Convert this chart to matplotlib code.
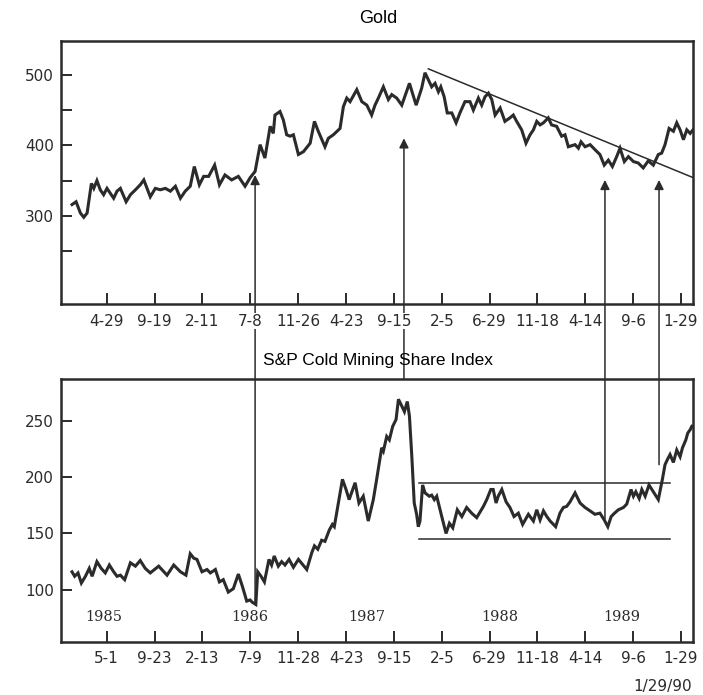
import matplotlib
matplotlib.use('Agg')
import matplotlib.pyplot as plt
from matplotlib.patches import ConnectionPatch

# x axis is in weeks, counted from the first tick (4-29-85)
tick_weeks = [0, 20, 40, 60, 80, 100, 120, 140, 160, 180, 200, 220, 240]
gold_ticklabels = ['4-29', '9-19', '2-11', '7-8', '11-26', '4-23', '9-15',
                   '2-5', '6-29', '11-18', '4-14', '9-6', '1-29']
index_ticklabels = ['5-1', '9-23', '2-13', '7-9', '11-28', '4-23', '9-15',
                    '2-5', '6-29', '11-18', '4-14', '9-6', '1-29']

# Gold price
gold_weeks = [-14.5, -12.8, -11.0, -9.6, -8.2, -6.4, -5.4, -4.1, -2.7, -1.3,
              0.1, 1.5, 2.9, 4.3, 5.7, 8.1, 9.9, 12.0, 14.0, 15.5,
              18.2, 20.3, 22.4, 24.5, 26.6, 28.7, 30.8, 32.8, 34.9, 36.6,
              38.7, 40.5, 42.6, 45.1, 47.1, 49.4, 52.2, 55.0, 56.4, 57.8,
              59.9, 62.0, 64.1, 66.1, 68.3, 69.6, 70.3, 72.4, 73.8, 75.2,
              76.6, 78.0, 80.1, 82.2, 85.0, 86.8, 88.4, 91.2, 92.6, 94.7,
              97.5, 98.9, 100.3, 101.7, 104.5, 106.6, 108.7, 110.7, 112.1, 113.5,
              115.6, 117.7, 119.1, 121.2, 123.3, 126.5, 129.3, 131.6, 133.0, 134.4,
              135.8, 137.2, 138.6, 139.6, 141.0, 142.3, 144.2, 146.0, 147.6, 149.7,
              151.8, 153.2, 155.3, 156.7, 158.1, 159.5, 160.9, 162.3, 164.4, 166.4,
              168.5, 169.9, 171.3, 173.4, 175.2, 176.9, 178.3, 179.7, 181.1, 182.5,
              184.5, 185.9, 188.0, 190.1, 191.5, 192.9, 195.7, 197.1, 198.2, 199.9,
              202.0, 204.0, 206.1, 207.9, 209.6, 211.3, 213.1, 214.5, 216.3, 218.0,
              220.1, 222.1, 224.2, 226.3, 228.4, 230.5, 231.9, 233.3, 235.0, 236.8,
              238.2, 239.6, 241.0, 242.4, 243.8, 245.0]
gold_price = [316, 320, 304, 298, 304, 346, 339, 350, 337, 330,
              339, 332, 325, 335, 339, 320, 330, 337, 344, 351,
              327, 339, 337, 339, 335, 342, 325, 335, 342, 370,
              344, 356, 356, 372, 344, 358, 351, 356, 349, 342,
              354, 363, 401, 382, 427, 417, 443, 448, 436, 415,
              413, 415, 387, 391, 403, 434, 420, 398, 410, 415,
              424, 455, 467, 462, 479, 462, 457, 443, 457, 467,
              483, 465, 472, 467, 457, 488, 457, 481, 503, 493,
              483, 488, 476, 483, 469, 446, 446, 432, 446, 462,
              462, 450, 467, 457, 469, 474, 465, 443, 453, 434,
              439, 443, 434, 422, 403, 415, 422, 434, 429, 432,
              439, 429, 427, 413, 415, 398, 401, 396, 405, 398,
              401, 394, 387, 372, 379, 370, 384, 396, 377, 384,
              377, 375, 368, 378, 372, 387, 389, 401, 424, 420,
              432, 422, 408, 422, 417, 422]

# S&P gold mining share index
index_weeks = [-14.5, -13.4, -12.0, -10.6, -8.9, -7.3, -6.1, -4.1, -2.3, -0.6,
               1.1, 2.9, 4.3, 5.7, 7.5, 9.9, 12.0, 14.0, 16.1, 18.2,
               21.7, 25.2, 28.0, 30.8, 33.1, 34.9, 36.4, 37.7, 39.8, 41.9,
               43.3, 45.4, 47.1, 48.7, 50.8, 52.9, 55.0, 56.7, 58.5, 59.9,
               60.8, 62.3, 63.1, 64.5, 65.9, 67.8, 68.9, 70.0, 71.7, 73.1,
               74.5, 76.2, 78.0, 80.1, 83.6, 85.7, 86.8, 88.2, 89.8, 91.2,
               93.0, 94.3, 95.1, 96.8, 98.5, 100.0, 101.3, 103.8, 105.4, 107.2,
               109.3, 111.4, 112.8, 114.9, 115.6, 117.0, 118.1, 119.5, 120.9, 121.9,
               123.3, 124.4, 125.6, 126.5, 127.5, 128.5, 129.5, 130.2, 130.9, 132.0,
               133.0, 134.8, 135.8, 136.9, 137.9, 140.0, 141.8, 143.2, 144.6, 146.5,
               148.4, 150.4, 152.5, 154.6, 157.4, 158.8, 160.5, 161.5, 162.7, 163.6,
               165.1, 166.9, 168.5, 170.2, 172.0, 173.8, 176.2, 178.3, 179.7, 181.1,
               182.5, 183.9, 185.3, 187.6, 189.4, 190.8, 192.2, 193.6, 195.7, 197.8,
               199.9, 202.0, 204.0, 206.1, 207.9, 209.4, 210.8, 212.2, 213.8, 215.9,
               217.3, 219.1, 220.1, 221.1, 222.5, 223.6, 225.0, 226.6, 228.4, 230.5,
               232.2, 233.3, 234.4, 235.4, 236.8, 238.2, 239.6, 240.6, 242.0, 242.8,
               243.8, 244.5]
index_value = [116, 112, 115, 106, 112, 119, 112, 125, 119, 115,
               122, 116, 112, 113, 109, 124, 121, 126, 119, 115,
               121, 113, 122, 116, 113, 132, 128, 127, 116, 118,
               115, 118, 107, 109, 98, 101, 114, 103, 90, 91,
               89, 87, 116, 112, 107, 127, 122, 130, 121, 125,
               122, 127, 120, 127, 118, 133, 139, 136, 144, 143,
               153, 158, 156, 177, 198, 189, 180, 195, 177, 183,
               161, 180, 198, 226, 223, 236, 233, 245, 251, 269,
               263, 258, 267, 254, 218, 177, 167, 156, 161, 193,
               186, 183, 184, 180, 183, 165, 150, 159, 155, 171,
               165, 173, 168, 164, 174, 180, 189, 189, 177, 183,
               189, 178, 173, 165, 168, 158, 167, 161, 171, 162,
               170, 165, 161, 156, 168, 173, 174, 178, 186, 177,
               173, 170, 167, 168, 162, 156, 165, 168, 171, 173,
               176, 189, 183, 187, 181, 189, 183, 193, 187, 180,
               198, 211, 216, 220, 213, 224, 218, 226, 233, 239,
               242, 245]

# annotations
trend_weeks = [134.4, 245.0]
trend_values = [508.5, 354.3]
range_weeks = [130.5, 235.4]
range_top = 195
range_bottom = 145
arrow_weeks = [62.0, 124.2, 208.2, 230.8]
arrow_tip = [358, 410, 351, 351]          # gold scale
arrow_base = [87, 287, 163, 211]          # index scale
year_labels = ['1985', '1986', '1987', '1988', '1989']
year_weeks = [-1.1, 59.9, 108.6, 164.3, 215.2]

ink = '#2b2b2b'

fig = plt.figure(figsize=(7.03, 6.95), dpi=100)
ax1 = fig.add_axes([0.0868, 0.5626, 0.899, 0.3784])
ax2 = fig.add_axes([0.0868, 0.0767, 0.899, 0.378])

for ax in (ax1, ax2):
    ax.set_xlim(-19.1, 245.0)
    ax.set_xticks(tick_weeks)
    ax.tick_params(direction='in', length=8, width=1.4, color=ink,
                   labelsize=11, labelcolor=ink)
    ax.tick_params(axis='x', pad=7)
    ax.tick_params(axis='y', pad=5)
    for s in ax.spines.values():
        s.set_linewidth(1.8)
        s.set_color(ink)

# top panel: gold
ax1.plot(gold_weeks, gold_price, color=ink, lw=2.2, solid_joinstyle='miter')
ax1.plot(trend_weeks, trend_values, color=ink, lw=1.1)
ax1.set_ylim(175, 548)
ax1.set_yticks([250, 300, 350, 400, 450, 500])
ax1.set_yticklabels(['', '300', '', '400', '', '500'])
ax1.set_xticklabels(gold_ticklabels)
for lbl in ax1.get_xticklabels():
    lbl.set_bbox(dict(facecolor='white', edgecolor='none', pad=0.5))

# bottom panel: mining shares
ax2.plot(index_weeks, index_value, color=ink, lw=2.2, solid_joinstyle='miter')
ax2.plot(range_weeks, [range_top, range_top], color=ink, lw=1.1)
ax2.plot(range_weeks, [range_bottom, range_bottom], color=ink, lw=1.1)
ax2.set_ylim(54, 287)
ax2.set_yticks([100, 150, 200, 250])
ax2.set_xticklabels(index_ticklabels)
for w, yr in zip(year_weeks, year_labels):
    ax2.text(w, 76, yr, ha='center', va='center', fontsize=10.5,
             family='DejaVu Serif', color=ink)

# arrows from the index up into the gold chart
ax2.set_zorder(1)
ax1.set_zorder(3)
ax1.patch.set_visible(False)
for w, lo, hi in zip(arrow_weeks, arrow_base, arrow_tip):
    con = ConnectionPatch(xyA=(w, lo), coordsA=ax2.transData,
                          xyB=(w, hi), coordsB=ax1.transData,
                          arrowstyle='-|>', mutation_scale=14,
                          lw=1.1, color=ink, zorder=2)
    fig.add_artist(con)

fig.text(0.538, 0.974, 'Gold', ha='center', va='center',
         fontsize=13, family='Liberation Sans', color='black')
fig.text(0.538, 0.482, 'S&P Cold Mining Share Index', ha='center', va='center',
         fontsize=12.5, family='Liberation Sans', color='black')
fig.text(0.984, 0.012, '1/29/90', ha='right', va='center',
         fontsize=11, color=ink)

fig.savefig('out.png', dpi=100)
